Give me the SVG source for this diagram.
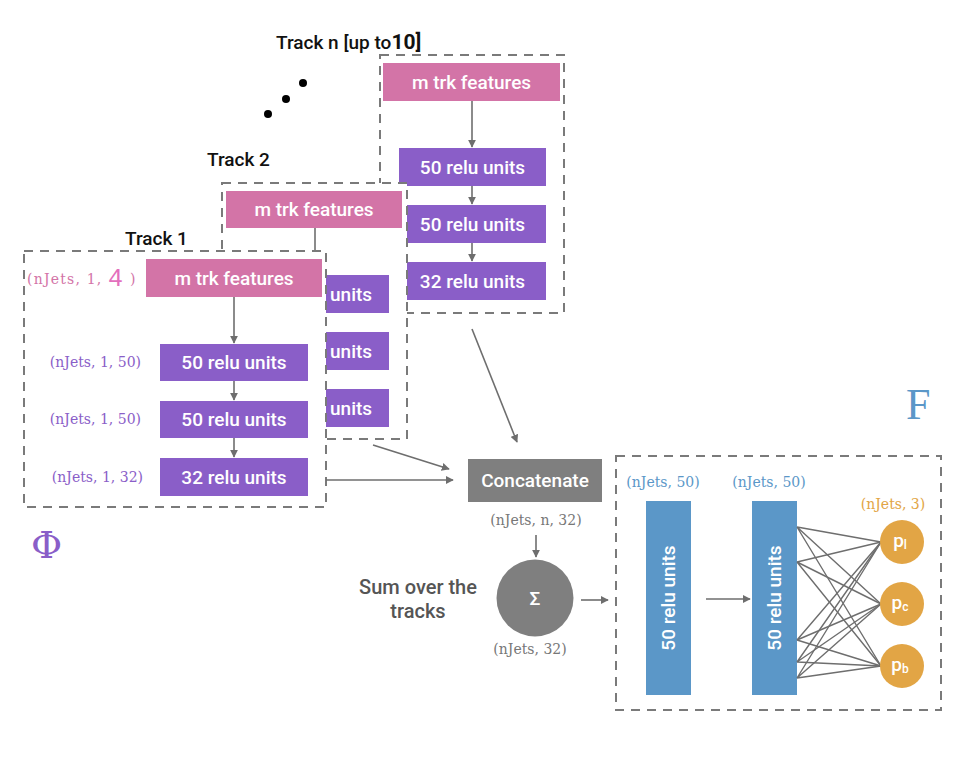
<svg xmlns="http://www.w3.org/2000/svg" width="974" height="774" viewBox="0 0 974 774">
<defs>
<marker id="ah" viewBox="0 0 10 10" refX="9" refY="5" markerWidth="8" markerHeight="8" markerUnits="userSpaceOnUse" orient="auto">
<path d="M0,0 L10,5 L0,10 z" fill="#6e6e6e"/>
</marker>
<style>
.box{fill:#fff;stroke:#7a7a7a;stroke-width:2;stroke-dasharray:9 7}
.pink{fill:#d374a7}
.purple{fill:#8a5ec8}
.blue{fill:#5b97c8}
.orange{fill:#e2a545}
.gray{fill:#7f7f7f}
.wt{font-family:Roboto,"Liberation Sans",sans-serif;font-weight:500;font-size:19px;fill:#fff;text-anchor:middle;dominant-baseline:central}
.lbl{font-family:"DejaVu Serif","Liberation Serif",serif;font-size:14px;dominant-baseline:central}
.ttl{font-family:Roboto,"Liberation Sans",sans-serif;font-weight:500;font-size:19px;fill:#111}
.ln{stroke:#6e6e6e;stroke-width:1.6;fill:none}
.fc{stroke:#6e6e6e;stroke-width:1.4;fill:none}
</style>
</defs>
<rect width="974" height="774" fill="#fff"/>

<g id="dots">
<circle cx="268" cy="114" r="4" fill="#000"/>
<circle cx="286" cy="99" r="4" fill="#000"/>
<circle cx="303" cy="83" r="4" fill="#000"/>
</g>

<g id="trackN">
<text class="ttl" x="276" y="49">Track n [up to<tspan font-size="21" font-weight="700">10]</tspan></text>
<rect class="box" x="380" y="55" width="184" height="258"/>
<g id="trackN-features"><rect class="pink" x="383" y="63" width="177" height="38"/><text class="wt" x="471.5" y="82">m trk features</text></g>
<g id="trackN-d1"><rect class="purple" x="399" y="148" width="147" height="38"/><text class="wt" x="472.5" y="167">50 relu units</text></g>
<g id="trackN-d2"><rect class="purple" x="399" y="205" width="147" height="38"/><text class="wt" x="472.5" y="224">50 relu units</text></g>
<g id="trackN-d3"><rect class="purple" x="399" y="262" width="147" height="38"/><text class="wt" x="472.5" y="281">32 relu units</text></g>
</g>

<g id="track2">
<text class="ttl" x="207" y="166">Track 2</text>
<rect class="box" x="222" y="183" width="185" height="256"/>
<g id="track2-features"><rect class="pink" x="226" y="191" width="176" height="37"/><text class="wt" x="314" y="209.5">m trk features</text></g>
<g id="track2-d1"><rect class="purple" x="241" y="275" width="148" height="38"/><text class="wt" x="330" y="294" style="text-anchor:start">units</text></g>
<g id="track2-d2"><rect class="purple" x="241" y="332" width="148" height="38"/><text class="wt" x="330" y="351" style="text-anchor:start">units</text></g>
<g id="track2-d3"><rect class="purple" x="241" y="389" width="148" height="38"/><text class="wt" x="330" y="408" style="text-anchor:start">units</text></g>
</g>

<g id="track2-arrow-visible">
<line class="ln" x1="315" y1="228" x2="315" y2="252"/>
</g>

<g id="track1">
<text class="ttl" x="125" y="245">Track 1</text>
<rect class="box" x="24" y="251" width="302" height="256"/>
<g id="track1-features"><rect class="pink" x="146" y="259" width="176" height="38"/><text class="wt" x="234" y="278">m trk features</text></g>
<g id="track1-d1"><rect class="purple" x="160" y="344" width="148" height="37"/><text class="wt" x="234" y="362.5">50 relu units</text></g>
<g id="track1-d2"><rect class="purple" x="160" y="401" width="148" height="37"/><text class="wt" x="234" y="419.5">50 relu units</text></g>
<g id="track1-d3"><rect class="purple" x="160" y="458" width="148" height="38"/><text class="wt" x="234" y="477">32 relu units</text></g>
<text class="lbl" x="27" y="279" fill="#d374a7" font-size="17" letter-spacing="1.2">(nJets, 1, <tspan font-family="'Liberation Mono',monospace" font-size="25" fill="#e36fbd">4</tspan> )</text>
<text class="lbl" x="141" y="362" fill="#8a5ec8" text-anchor="end">(nJets, 1, 50)</text>
<text class="lbl" x="141" y="419" fill="#8a5ec8" text-anchor="end">(nJets, 1, 50)</text>
<text class="lbl" x="143" y="477" fill="#8a5ec8" text-anchor="end">(nJets, 1, 32)</text>
</g>

<text x="31" y="558" font-family="'DejaVu Serif','Liberation Serif',serif" font-size="38" fill="#8a5ec8">Φ</text>
<text x="906" y="419" font-family="'Liberation Serif',serif" font-size="44" fill="#5b97c8">F</text>

<g id="concatenate">
<rect class="gray" x="468" y="459" width="134" height="43"/>
<text class="wt" x="535" y="480.5" font-size="18">Concatenate</text>
<text class="lbl" x="536" y="520" fill="#777" text-anchor="middle">(nJets, n, 32)</text>
</g>

<g id="sum">
<circle cx="535" cy="598" r="38.5" fill="#7f7f7f"/>
<text class="wt" x="535" y="598" font-size="21" font-weight="700">Σ</text>
<text x="418" y="594" font-family="Roboto,'Liberation Sans',sans-serif" font-weight="500" font-size="20" fill="#555" text-anchor="middle">Sum over the</text>
<text x="418" y="618" font-family="Roboto,'Liberation Sans',sans-serif" font-weight="500" font-size="20" fill="#555" text-anchor="middle">tracks</text>
<text class="lbl" x="530" y="649" fill="#777" text-anchor="middle">(nJets, 32)</text>
</g>

<g id="F">
<rect class="box" x="616" y="456" width="325" height="254" style="fill:none"/>
<g id="F-d1"><rect class="blue" x="646" y="501" width="45" height="194"/><text class="wt" transform="translate(668.5 598) rotate(-90)" x="0" y="0">50 relu units</text></g>
<g id="F-d2"><rect class="blue" x="752" y="501" width="45" height="194"/><text class="wt" transform="translate(774.5 598) rotate(-90)" x="0" y="0">50 relu units</text></g>
<text class="lbl" x="663" y="482" fill="#5b97c8" text-anchor="middle">(nJets, 50)</text>
<text class="lbl" x="769" y="482" fill="#5b97c8" text-anchor="middle">(nJets, 50)</text>
<text class="lbl" x="893" y="504" fill="#e2a545" text-anchor="middle">(nJets, 3)</text>
</g>

<g id="connectors">
<line class="ln" x1="472" y1="101" x2="472" y2="147" marker-end="url(#ah)"/>
<line class="ln" x1="472" y1="186" x2="472" y2="204" marker-end="url(#ah)"/>
<line class="ln" x1="472" y1="243" x2="472" y2="261" marker-end="url(#ah)"/>
<line class="ln" x1="234" y1="297" x2="234" y2="343" marker-end="url(#ah)"/>
<line class="ln" x1="234" y1="381" x2="234" y2="400" marker-end="url(#ah)"/>
<line class="ln" x1="234" y1="438" x2="234" y2="457" marker-end="url(#ah)"/>
<line class="ln" x1="326" y1="480" x2="453" y2="480" marker-end="url(#ah)"/>
<line class="ln" x1="373" y1="445" x2="449" y2="469" marker-end="url(#ah)"/>
<line class="ln" x1="472" y1="329" x2="517" y2="442" marker-end="url(#ah)"/>
<line class="ln" x1="536" y1="535" x2="536" y2="557" marker-end="url(#ah)"/>
<line class="ln" x1="581" y1="600" x2="608" y2="600" marker-end="url(#ah)"/>
<line class="ln" x1="706" y1="599" x2="750" y2="599" marker-end="url(#ah)"/>
<g class="fc">
<path d="M797,527 L881,542 M797,527 L881,604 M797,527 L881,666"/>
<path d="M797,562 L881,542 M797,562 L881,604 M797,562 L881,666"/>
<path d="M797,640 L881,542 M797,640 L881,604 M797,640 L881,666"/>
<path d="M797,662 L881,542 M797,662 L881,604 M797,662 L881,666"/>
<path d="M797,678 L881,542 M797,678 L881,604 M797,678 L881,666"/>
</g>
</g>

<g id="outputs">
<g id="p-l"><circle class="orange" cx="902" cy="542" r="22"/><text class="wt" x="900" y="540" font-size="19">p<tspan font-size="12" dy="5">l</tspan></text></g>
<g id="p-c"><circle class="orange" cx="902" cy="604" r="22"/><text class="wt" x="900" y="602" font-size="19">p<tspan font-size="12" dy="5">c</tspan></text></g>
<g id="p-b"><circle class="orange" cx="902" cy="666" r="22"/><text class="wt" x="900" y="664" font-size="19">p<tspan font-size="12" dy="5">b</tspan></text></g>
</g>
</svg>
